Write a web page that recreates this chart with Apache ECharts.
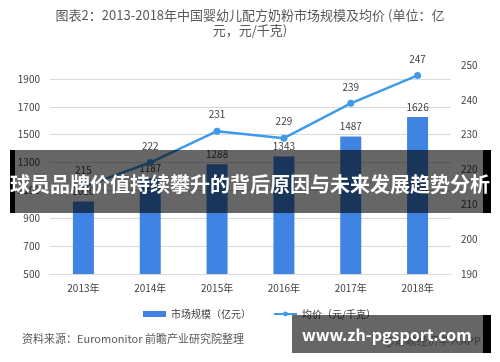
<!DOCTYPE html>
<html><head><meta charset="utf-8">
<script src="https://cdn.jsdelivr.net/npm/echarts@6/dist/echarts.min.js"></script>
<style>html,body{margin:0;padding:0;background:#fff}#c{width:500px;height:362px}</style>
</head><body><div id="c"></div>
<script>
var categories = ['2013年','2014年','2015年','2016年','2017年','2018年'];
var marketSize = [1020, 1187, 1288, 1343, 1487, 1626];
var avgPrice = [215, 222, 231, 229, 239, 247];
var seriesNames = ['市场规模（亿元）', '均价（元/千克）'];
var titleLines = ['图表2：2013-2018年中国婴幼儿配方奶粉市场规模及均价 (单位：亿', '元，元/千克)'];
var sourceText = '资料来源：Euromonitor 前瞻产业研究院整理';
var bannerText = '球员品牌价值持续攀升的背后原因与未来发展趋势分析';
var siteText = 'www.zh-pgsport.com';
var appText = '@前瞻经济学人APP';

var FONT = '"Noto Sans CJK SC", "Noto Sans", sans-serif';
var chart = echarts.init(document.getElementById('c'), null, {renderer: 'canvas'});
chart.setOption({
  animation: false,
  textStyle: {fontFamily: FONT},
  grid: {left: 50, right: 49, top: 65, bottom: 88, containLabel: false},
  legend: {
    left: 138, top: 304, itemGap: 22, itemWidth: 23, itemHeight: 6,
    textStyle: {fontSize: 10, color: '#404040', fontFamily: FONT},
    data: [{name: seriesNames[0], icon: 'rect'}, {name: seriesNames[1]}]
  },
  xAxis: {
    type: 'category', data: categories,
    axisTick: {show: false},
    axisLine: {lineStyle: {color: '#d9d9d9'}},
    axisLabel: {color: '#404040', fontSize: 10, margin: 9, fontFamily: FONT}
  },
  yAxis: [{
    type: 'value', min: 500, max: 2000, interval: 200,
    axisLine: {show: false}, axisTick: {show: false},
    axisLabel: {color: '#404040', fontSize: 10, margin: 10, showMaxLabel: false, fontFamily: FONT,
      formatter: function (v) { return String(v); }},
    splitLine: {show: true, showMaxLine: false, lineStyle: {color: '#d9d9d9'}}
  }, {
    type: 'value', min: 190, max: 250, interval: 10,
    axisLine: {show: false}, axisTick: {show: false},
    axisLabel: {color: '#404040', fontSize: 10, margin: 10, fontFamily: FONT,
      formatter: function (v) { return String(v); }},
    splitLine: {show: false}
  }],
  series: [{
    name: seriesNames[0], type: 'bar', data: marketSize, barWidth: 21,
    itemStyle: {color: '#3F84E2'},
    label: {show: true, position: 'top', distance: 5, color: '#404040', fontSize: 10, fontFamily: FONT}
  }, {
    name: seriesNames[1], type: 'line', yAxisIndex: 1, data: avgPrice,
    symbol: 'circle', symbolSize: 7,
    lineStyle: {color: '#3D9BEA', width: 2.5},
    itemStyle: {color: '#3D9BEA'},
    label: {show: true, position: 'top', distance: 8, color: '#404040', fontSize: 10, fontFamily: FONT}
  }],
  graphic: [
    {type: 'text', left: 'center', top: 9, z: 100,
     style: {text: titleLines[0], fill: '#595959', font: '13px ' + FONT}},
    {type: 'text', left: 'center', top: 24, z: 100,
     style: {text: titleLines[1], fill: '#595959', font: '13px ' + FONT}},
    {type: 'text', left: 22, top: 333, z: 100,
     style: {text: sourceText, fill: '#595959', font: '11px ' + FONT}},
    {type: 'rect', z: 100, shape: {x: 15, y: 150, width: 468, height: 63}, style: {fill: 'rgba(0,0,0,0.6)'}},
    {type: 'rect', z: 100, shape: {x: 10, y: 150, width: 5, height: 63}, style: {fill: '#000'}},
    {type: 'rect', z: 100, shape: {x: 483, y: 150, width: 8, height: 63}, style: {fill: '#000'}},
    {type: 'text', z: 101, left: 'center', top: 174,
     style: {text: bannerText, fill: '#fff', font: 'bold 20px ' + FONT}},
    {type: 'rect', z: 100, shape: {x: 292, y: 315, width: 191, height: 38}, style: {fill: 'rgba(0,0,0,0.6)'}},
    {type: 'rect', z: 100, shape: {x: 483, y: 315, width: 8, height: 38}, style: {fill: '#000'}},
    {type: 'text', z: 101, left: 384, top: 335,
     style: {text: appText, fill: '#3a3a3a', font: '11px ' + FONT}},
    {type: 'text', z: 102, left: 302, top: 327,
     style: {text: siteText, fill: '#fff', font: 'bold 16px ' + FONT}}
  ]
});
</script></body></html>
